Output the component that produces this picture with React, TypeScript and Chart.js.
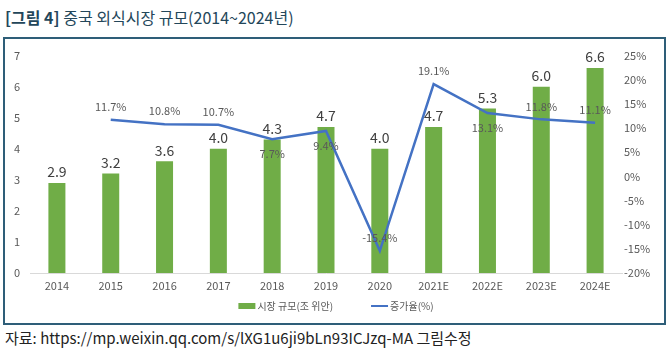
import React, { useEffect, useRef } from "react";
import { Chart, registerables } from "chart.js";

Chart.register(...registerables);

const categories = ["2014", "2015", "2016", "2017", "2018", "2019", "2020", "2021E", "2022E", "2023E", "2024E"];
const marketSize = [2.9, 3.2, 3.6, 4.0, 4.3, 4.7, 4.0, 4.7, 5.3, 6.0, 6.6];
const growthRate: (number | null)[] = [null, 11.7, 10.8, 10.7, 7.7, 9.4, -15.4, 19.1, 13.1, 11.8, 11.1];
const growthLabelSide = ["", "above", "above", "above", "below", "below", "above", "above", "below", "above", "above"];
const leftAxis = { min: 0, max: 7, step: 1 };
const rightAxis = { min: -20, max: 25, step: 5 };
const seriesNames = ["시장 규모(조 위안)", "증가율(%)"];

const FONT = "'Noto Sans CJK KR', 'Noto Sans', sans-serif";
const GREEN = "#70AD47";
const BLUE = "#4472C4";

const labelPlugin = {
  id: "labels",
  afterDatasetsDraw(chart: any) {
    const ctx = chart.ctx;
    ctx.save();
    const barMeta = chart.getDatasetMeta(1);
    ctx.fillStyle = "#404040";
    ctx.font = `14px ${FONT}`;
    ctx.textAlign = "center";
    ctx.textBaseline = "middle";
    barMeta.data.forEach((el: any, i: number) => {
      ctx.fillText(marketSize[i].toFixed(1), el.x, el.y - 11);
    });
    const lineMeta = chart.getDatasetMeta(0);
    ctx.fillStyle = "#595959";
    ctx.font = `11px ${FONT}`;
    lineMeta.data.forEach((el: any, i: number) => {
      const v = growthRate[i];
      if (v === null) return;
      const dy = growthLabelSide[i] === "below" ? 15 : -13;
      ctx.fillText(v.toFixed(1) + "%", el.x, el.y + dy);
    });
    ctx.restore();
  },
  afterDraw(chart: any) {
    const ctx = chart.ctx;
    ctx.save();
    ctx.font = `10px ${FONT}`;
    ctx.textBaseline = "middle";
    ctx.textAlign = "left";
    const sw = 17;
    const gap = 2;
    const itemGap = 38;
    const w0 = ctx.measureText(seriesNames[0]).width;
    const w1 = ctx.measureText(seriesNames[1]).width;
    const total = sw + gap + w0 + itemGap + sw + gap + w1;
    let x = chart.width / 2 - total / 2 + 2;
    const y = 267;
    ctx.fillStyle = GREEN;
    ctx.fillRect(x, y - 3, sw, 6);
    x += sw + gap;
    ctx.fillStyle = "#595959";
    ctx.fillText(seriesNames[0], x, y);
    x += w0 + itemGap;
    ctx.strokeStyle = BLUE;
    ctx.lineWidth = 2;
    ctx.beginPath();
    ctx.moveTo(x, y);
    ctx.lineTo(x + sw, y);
    ctx.stroke();
    x += sw + gap;
    ctx.fillText(seriesNames[1], x, y);
    ctx.restore();
  },
};

function ChartCanvas() {
  const ref = useRef<HTMLCanvasElement>(null);
  useEffect(() => {
    if (!ref.current) return;
    const chart = new Chart(ref.current, {
      type: "bar",
      data: {
        labels: categories,
        datasets: [
          {
            type: "line",
            label: seriesNames[1],
            data: growthRate,
            yAxisID: "y2",
            borderColor: BLUE,
            backgroundColor: BLUE,
            borderWidth: 2.5,
            pointRadius: 0,
            tension: 0,
            order: 0,
          } as any,
          {
            type: "bar",
            label: seriesNames[0],
            data: marketSize,
            yAxisID: "y",
            backgroundColor: GREEN,
            categoryPercentage: 1,
            barPercentage: 0.316,
            order: 1,
          },
        ],
      },
      options: {
        responsive: false,
        animation: false,
        layout: { padding: { top: 16, bottom: 30, left: 0, right: 0 } },
        plugins: { legend: { display: false }, tooltip: { enabled: false } },
        scales: {
          x: {
            grid: { display: false, drawTicks: false },
            border: { display: true, color: "#d9d9d9", width: 1 },
            ticks: { color: "#595959", font: { family: FONT, size: 11 }, padding: 6, maxRotation: 0 },
            afterFit: (s: any) => { s.height = 20; },
          },
          y: {
            position: "left",
            min: leftAxis.min,
            max: leftAxis.max,
            grid: { display: false, drawTicks: false },
            border: { display: false },
            ticks: { stepSize: leftAxis.step, color: "#595959", font: { family: FONT, size: 11 }, padding: 10 },
            afterFit: (s: any) => { s.width = 26; },
          },
          y2: {
            position: "right",
            min: rightAxis.min,
            max: rightAxis.max,
            grid: { display: false, drawTicks: false },
            border: { display: false },
            ticks: {
              stepSize: rightAxis.step,
              color: "#595959",
              font: { family: FONT, size: 11 },
              padding: 2,
              callback: (v: any) => `${v}%`,
            },
            afterFit: (s: any) => { s.width = 42; },
          },
        },
      },
      plugins: [labelPlugin],
    });
    return () => chart.destroy();
  }, []);
  return <canvas ref={ref} width={660} height={284} style={{ position: "absolute", left: 4, top: 39, width: 660, height: 284 }} />;
}

export default function App() {
  return (
    <div style={{ position: "absolute", left: 0, top: 0, width: 670, height: 354, background: "#fff", fontFamily: FONT, overflow: "hidden" }}>
      <div style={{ position: "absolute", left: 5, top: 6, fontSize: 16, color: "#23465a", whiteSpace: "nowrap", lineHeight: "22px" }}>
        <span style={{ fontWeight: 700 }}>[그림 4]</span>
        <span> 중국 외식시장 규모(2014~2024년)</span>
      </div>
      <div style={{ position: "absolute", left: 3, top: 37, width: 663, height: 288, border: "2px solid #2e5e78", boxSizing: "border-box" }} />
      <ChartCanvas />
      <div style={{ position: "absolute", left: 5, top: 327, fontSize: 15, color: "#222", whiteSpace: "nowrap", lineHeight: "22px" }}>
        자료: https://mp.weixin.qq.com/s/lXG1u6ji9bLn93ICJzq-MA 그림수정
      </div>
    </div>
  );
}
